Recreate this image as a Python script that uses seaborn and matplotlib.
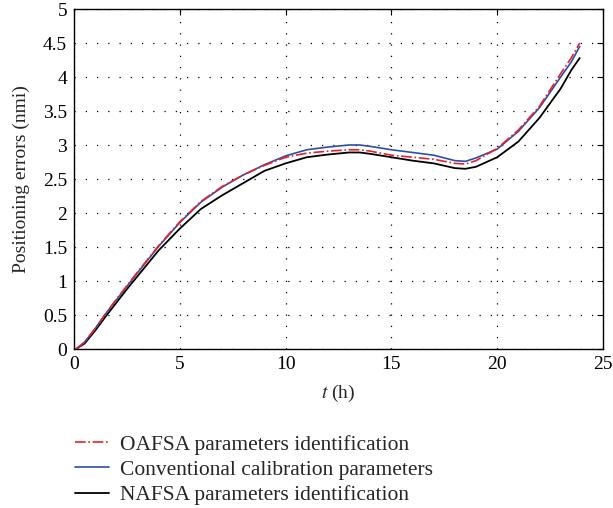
import numpy as np
import pandas as pd
import matplotlib
matplotlib.use("Agg")
import matplotlib.pyplot as plt
import seaborn as sns
from matplotlib.ticker import FuncFormatter

# Data
t_hours = [0.1, 0.5, 1, 1.5, 2, 2.5, 3, 4, 5, 6, 7, 8, 9, 10, 11, 12, 13, 13.5,
           14, 15, 16, 17, 18, 18.5, 19, 20, 21, 22, 23, 23.5, 23.9]
oafsa = [0.0, 0.1, 0.3, 0.52, 0.73, 0.93, 1.13, 1.52, 1.87, 2.17, 2.39, 2.56, 2.70, 2.82,
         2.88, 2.91, 2.93, 2.93, 2.91, 2.85, 2.82, 2.79, 2.73, 2.72, 2.77, 2.95, 3.22,
         3.57, 4.05, 4.28, 4.50]
conventional = [0.0, 0.1, 0.3, 0.52, 0.72, 0.92, 1.12, 1.51, 1.86, 2.16, 2.38, 2.56, 2.71,
                2.84, 2.93, 2.97, 3.00, 3.00, 2.98, 2.93, 2.89, 2.85, 2.77, 2.76, 2.81,
                2.94, 3.20, 3.55, 4.00, 4.22, 4.45]
nafsa = [0.0, 0.08, 0.27, 0.48, 0.68, 0.88, 1.07, 1.45, 1.77, 2.06, 2.26, 2.44, 2.62, 2.73,
         2.82, 2.86, 2.89, 2.89, 2.87, 2.82, 2.77, 2.73, 2.66, 2.65, 2.68, 2.82, 3.05,
         3.40, 3.83, 4.10, 4.28]

df = pd.DataFrame({"t": t_hours, "OAFSA": oafsa, "Conv": conventional, "NAFSA": nafsa})

sns.set_style("white")
plt.rcParams["font.family"] = ["Liberation Serif", "DejaVu Serif"]
plt.rcParams["mathtext.fontset"] = "stix"

fig = plt.figure(figsize=(6.13, 5.08), dpi=100)
# axes box: x 74..603 px, y 9..349 px
ax = fig.add_axes([74 / 613, 1 - 349 / 508, 529 / 613, 340 / 508])

sns.lineplot(data=df, x="t", y="OAFSA", ax=ax, color="#e8202a", lw=1.2,
             linestyle="-.", label="OAFSA parameters identification", zorder=4)
sns.lineplot(data=df, x="t", y="Conv", ax=ax, color="#2b4fa8", lw=1.2,
             label="Conventional calibration parameters", zorder=3)
sns.lineplot(data=df, x="t", y="NAFSA", ax=ax, color="black", lw=1.3,
             label="NAFSA parameters identification", zorder=2)

ax.set_xlim(0, 25)
ax.set_ylim(0, 5)
ax.set_xticks(np.arange(0, 26, 5))
ax.set_yticks(np.arange(0, 5.01, 0.5))
ax.yaxis.set_major_formatter(FuncFormatter(lambda v, p: f"{v:g}"))
ax.grid(True, linestyle=(0, (1, 8)), color="black", lw=0.9)
ax.tick_params(direction="in", length=4, labelsize=14, colors="black",
               top=True, right=True, pad=5)
for s in ax.spines.values():
    s.set_color("black")
    s.set_linewidth(1.0)

ax.set_xlabel("$t$ (h)", fontsize=14, labelpad=7)
ax.set_ylabel("Positioning errors (nmi)", fontsize=14, labelpad=9)

ax.legend(loc="upper left", bbox_to_anchor=(-0.015, -0.226), frameon=False,
          fontsize=15.5, handlelength=1.6, labelspacing=0.25, handletextpad=0.5,
          borderaxespad=0)

fig.savefig("out.png", dpi=100)
